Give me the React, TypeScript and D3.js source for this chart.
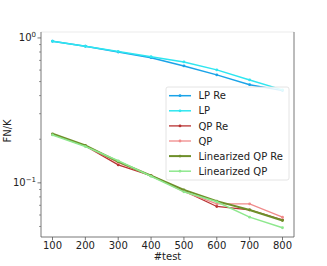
import React, { useEffect, useRef } from "react";
import * as d3 from "d3";

const width = 327;
const height = 266;
const margin = { top: 32, right: 33, bottom: 29, left: 41 };

const tests = [100, 200, 300, 400, 500, 600, 700, 800];
const lpRe = [0.949, 0.876, 0.8, 0.731, 0.641, 0.556, 0.476, 0.433];
const lp = [0.949, 0.876, 0.805, 0.743, 0.683, 0.602, 0.513, 0.438];
const qpRe = [0.216, 0.18, 0.133, 0.112, 0.088, 0.0687, 0.0651, 0.0556];
const qp = [0.216, 0.18, 0.138, 0.112, 0.087, 0.0716, 0.0716, 0.058];
const linQpRe = [0.218, 0.181, 0.14, 0.112, 0.0895, 0.0748, 0.065, 0.055];
const linQp = [0.214, 0.178, 0.142, 0.111, 0.0867, 0.074, 0.058, 0.049];

const series = [
  { name: "LP Re", values: lpRe, color: "#1aa3e8", w: 1.5 },
  { name: "LP", values: lp, color: "#2ee6f0", w: 1.5 },
  { name: "QP Re", values: qpRe, color: "#b83232", w: 1.3 },
  { name: "QP", values: qp, color: "#f08a8a", w: 1.3 },
  { name: "Linearized QP Re", values: linQpRe, color: "#6e8f2a", w: 2 },
  { name: "Linearized QP", values: linQp, color: "#8ee88e", w: 1.5 },
];

const xTicks = [100, 200, 300, 400, 500, 600, 700, 800];
const font = "DejaVu Sans, sans-serif";
const fs = 10;

export default function App() {
  const ref = useRef<SVGSVGElement>(null);

  useEffect(() => {
    const svg = d3.select(ref.current);
    svg.selectAll("*").remove();

    const x = d3
      .scaleLinear()
      .domain([65, 835])
      .range([margin.left, width - margin.right]);
    const y = d3
      .scaleLog()
      .domain([0.0423, 1.099])
      .range([height - margin.bottom, margin.top]);

    const x0 = margin.left;
    const x1 = width - margin.right;
    const y0 = height - margin.bottom;
    const y1 = margin.top;

    svg.append("rect").attr("width", width).attr("height", height).attr("fill", "#fff");

    // lines
    const line = d3
      .line<number>()
      .x((_, i) => x(tests[i]))
      .y((d) => y(d));

    series.forEach((s) => {
      svg
        .append("path")
        .datum(s.values)
        .attr("d", line)
        .attr("fill", "none")
        .attr("stroke", s.color)
        .attr("stroke-width", s.w);
      svg
        .append("g")
        .selectAll("circle")
        .data(s.values)
        .join("circle")
        .attr("cx", (_, i) => x(tests[i]))
        .attr("cy", (d) => y(d))
        .attr("r", 1.4)
        .attr("fill", s.color);
    });

    // spines
    svg.append("line").attr("x1", x0).attr("x2", x1).attr("y1", y1).attr("y2", y1).attr("stroke", "#e6e6e6").attr("stroke-width", 0.8);
    svg.append("line").attr("x1", x0).attr("x2", x0).attr("y1", y1).attr("y2", y0).attr("stroke", "#555").attr("stroke-width", 0.8);
    svg.append("line").attr("x1", x1).attr("x2", x1).attr("y1", y1).attr("y2", y0).attr("stroke", "#555").attr("stroke-width", 0.8);
    svg.append("line").attr("x1", x0).attr("x2", x1).attr("y1", y0).attr("y2", y0).attr("stroke", "#555").attr("stroke-width", 0.8);

    // x ticks
    const xg = svg.append("g");
    xTicks.forEach((t) => {
      xg.append("line").attr("x1", x(t)).attr("x2", x(t)).attr("y1", y0).attr("y2", y0 + 3.5).attr("stroke", "#555").attr("stroke-width", 0.8);
      xg.append("text")
        .attr("x", x(t))
        .attr("y", y0 + 11.5)
        .attr("text-anchor", "middle")
        .attr("font-family", font)
        .attr("font-size", fs)
        .attr("fill", "#222")
        .text(t);
    });

    // y ticks
    const yg = svg.append("g");
    const minor = [0.05, 0.06, 0.07, 0.08, 0.09, 0.2, 0.3, 0.4, 0.5, 0.6, 0.7, 0.8, 0.9];
    minor.forEach((v) => {
      yg.append("line").attr("x1", x0 - 2).attr("x2", x0).attr("y1", y(v)).attr("y2", y(v)).attr("stroke", "#555").attr("stroke-width", 0.6);
    });
    [
      { v: 1, e: "0" },
      { v: 0.1, e: "\u22121" },
    ].forEach((m) => {
      yg.append("line").attr("x1", x0 - 3.5).attr("x2", x0).attr("y1", y(m.v)).attr("y2", y(m.v)).attr("stroke", "#555").attr("stroke-width", 0.8);
      const t = yg
        .append("text")
        .attr("x", x0 - 5)
        .attr("y", y(m.v) + 3.5)
        .attr("text-anchor", "end")
        .attr("font-family", font)
        .attr("font-size", fs)
        .attr("fill", "#222");
      t.append("tspan").text("10");
      t.append("tspan").attr("dy", -4).attr("font-size", 7).text(m.e);
    });

    // axis labels
    svg.append("text")
      .attr("x", (x0 + x1) / 2)
      .attr("y", 260)
      .attr("text-anchor", "middle")
      .attr("font-family", font)
      .attr("font-size", fs)
      .attr("fill", "#222")
      .text("#test");
    svg.append("text")
      .attr("transform", `translate(10.5,131) rotate(-90)`)
      .attr("text-anchor", "middle")
      .attr("font-family", font)
      .attr("font-size", fs)
      .attr("fill", "#222")
      .text("FN/K");

    // legend
    const lg = svg.append("g").attr("transform", "translate(166,87)");
    lg.append("rect")
      .attr("width", 123)
      .attr("height", 93)
      .attr("rx", 2)
      .attr("fill", "#fff")
      .attr("fill-opacity", 0.85)
      .attr("stroke", "#ddd")
      .attr("stroke-width", 0.8);
    series.forEach((s, i) => {
      const cy = 8.7 + i * 15.1;
      lg.append("line").attr("x1", 3).attr("x2", 25).attr("y1", cy).attr("y2", cy).attr("stroke", s.color).attr("stroke-width", s.w);
      lg.append("circle").attr("cx", 14).attr("cy", cy).attr("r", 1.4).attr("fill", s.color);
      lg.append("text")
        .attr("x", 32.5)
        .attr("y", cy + 3.6)
        .attr("font-family", font)
        .attr("font-size", fs)
        .attr("fill", "#222")
        .text(s.name);
    });
  }, []);

  return (
    <svg
      ref={ref}
      width={width}
      height={height}
      style={{ position: "absolute", left: 0, top: 0 }}
    />
  );
}
